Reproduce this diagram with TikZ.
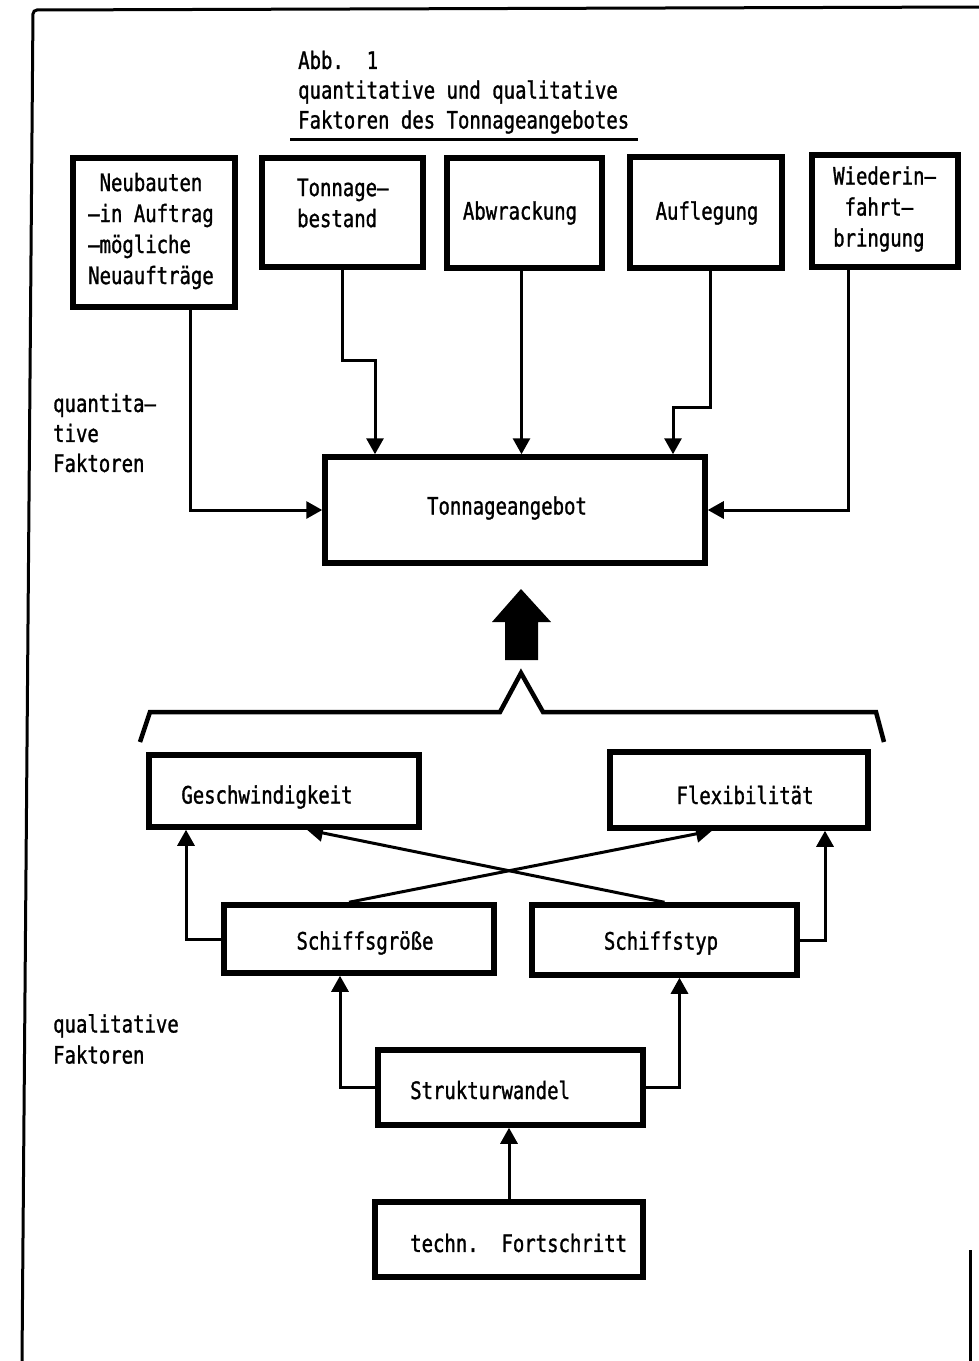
\documentclass[tikz,border=0pt]{standalone}
\usepackage{fontspec}
\newfontfamily\tw[FakeStretch=0.79,FakeBold=1.2]{DejaVu Sans Mono}
\usetikzlibrary{arrows.meta}
\tikzset{
  box/.style={draw, line width=5.5pt, inner sep=0pt},
  txt/.style={inner sep=0pt, font=\tw\fontsize{24}{31}\selectfont},
  arr/.style={line width=3pt, -{Triangle[length=16pt,width=17pt]}},
  frame/.style={line width=3pt}
}
\begin{document}
\begin{tikzpicture}[x=1pt,y=-1pt]
\useasboundingbox (0,0) rectangle (979,1361);
% frame
\draw[frame, rounded corners=4pt] (22,1361) -- (33,10) -- (979,7);
\draw[frame] (970,1250) -- (970,1361);
% title
\node[txt, anchor=west] (title) at (298,60) {Abb.\ \ 1};
\node[txt, anchor=west] (title2) at (298,92) {quantitative und qualitative};
\node[txt, anchor=west] (title3) at (298,122) {Faktoren des Tonnageangebotes};
\draw[line width=3pt] (290,139) -- (638,139);
% top boxes
\node[box, minimum width=162, minimum height=149] (nb) at (154,232.5) {};
\node[txt, anchor=west, align=left] (nbt) at (88,231) {\ Neubauten\\–in Auftrag\\–mögliche\\Neuaufträge};
\node[box, minimum width=161, minimum height=109] (tb) at (342.5,212.5) {};
\node[txt, anchor=west, align=left] (tbt) at (297,203) {Tonnage–\\bestand};
\node[box, minimum width=155, minimum height=110] (ab) at (524.5,213) {};
\node[txt] (abt) at (520,213) {Abwrackung};
\node[box, minimum width=152, minimum height=111] (au) at (706,212.5) {};
\node[txt] (aut) at (707,213) {Auflegung};
\node[box, minimum width=146, minimum height=112] (wi) at (885,211) {};
\node[txt, anchor=west, align=left] (wit) at (833,209) {Wiederin–\\\ fahrt–\\bringung};
% central box
\node[box, minimum width=380, minimum height=106] (ta) at (515,510) {};
\node[txt] (tat) at (507,508) {Tonnageangebot};
% quantitative label
\node[txt, anchor=west, align=left, font=\tw\fontsize{24}{30}\selectfont] (ql1) at (53,433) {quantita–\\tive\\Faktoren};
% arrows top
\draw[arr] ([xshift=36pt]nb.south) |- (ta.west);
\draw[arr] (tb.south) -- ++(0,91) -| ([xshift=-140pt]ta.north);
\draw[arr] ([xshift=-3pt]ab.south) -- ([xshift=-3pt]ab.south |- ta.north);
\draw[arr] ([xshift=4pt]au.south) -- ++(0,137) -| ([xshift=158pt]ta.north);
\draw[arr] ([xshift=-37pt]wi.south) |- (ta.east);
% big arrow
\fill (521,589) -- (551,622) -- (538,622) -- (538,660) -- (505,660) -- (505,622) -- (492,622) -- cycle;
% brace
\draw[line width=4.5pt, line join=miter] (140,742) -- (150,712) -- (500,712) -- (521,673) -- (543,712) -- (876,712) -- (884,742);
% qualitative boxes
\node[box, minimum width=270, minimum height=72] (gw) at (284,791) {};
\node[txt] (gwt) at (267,797) {Geschwindigkeit};
\node[box, minimum width=258, minimum height=76] (fl) at (739,790) {};
\node[txt] (flt) at (745,795) {Flexibilität};
\node[box, minimum width=270, minimum height=68] (sg) at (359,939) {};
\node[txt] (sgt) at (365,943) {Schiffsgröße};
\node[box, minimum width=265, minimum height=70] (st) at (664.5,940) {};
\node[txt] (stt) at (661,943) {Schiffstyp};
\node[box, minimum width=265, minimum height=75] (sw) at (510.5,1087.5) {};
\node[txt, anchor=west] (swt) at (410,1090) {Strukturwandel};
\node[box, minimum width=268, minimum height=75] (tf) at (509,1239.5) {};
\node[txt, anchor=west] (tft) at (410,1243) {techn.\ \ Fortschritt};
% qualitative label
\node[txt, anchor=west, align=left] (ql2) at (53,1039) {qualitative\\Faktoren};
% arrows bottom
\draw[arr] (sg.west) -| ([xshift=-98pt]gw.south);
\draw[arr] (st.east) -| ([xshift=86pt]fl.south);
\draw[arr] ([xshift=-10pt]sg.north) -- ([xshift=-27pt]fl.south);
\draw[arr] (st.north) -- ([xshift=23pt]gw.south);
\draw[arr] (sw.west) -| ([xshift=-19pt]sg.south);
\draw[arr] (sw.east) -| ([xshift=15pt]st.south);
\draw[arr] (tf.north) -- (tf.north |- sw.south);
\end{tikzpicture}
\end{document}
